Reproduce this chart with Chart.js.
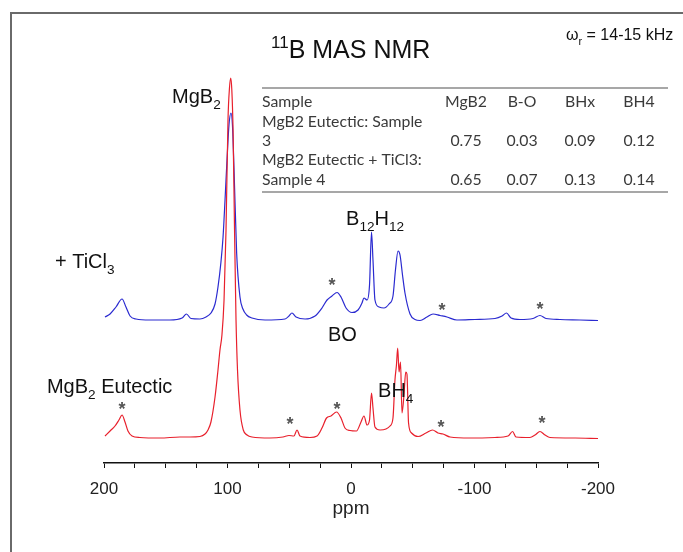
<!DOCTYPE html>
<html><head><meta charset="utf-8">
<script src="https://cdn.jsdelivr.net/npm/chart.js@4.4.1/dist/chart.umd.min.js"></script>
<style>html,body{margin:0;padding:0;background:#fff;}canvas{display:block;}</style>
</head><body>
<canvas id="c" width="683" height="552"></canvas>
<script>
// ---- data ----
const redPpm = [199.2,195.1,191.1,187.9,185.4,183.0,180.6,177.3,170.9,154.7,138.5,130.4,122.3,118.2,115.8,113.4,110.1,107.7,106.1,104.5,102.8,101.2,99.6,98.4,97.4,96.5,95.5,94.3,93.1,91.9,89.9,87.2,84.2,80.2,65.6,55.1,50.2,46.2,43.7,41.3,33.2,27.5,23.5,19.8,16.2,11.7,8.1,4.9,0.8,-4.4,-8.1,-10.5,-13.0,-15.0,-16.6,-17.8,-19.4,-23.5,-28.3,-31.6,-34.0,-35.6,-36.8,-37.8,-38.9,-40.1,-41.3,-42.9,-44.3,-45.3,-46.6,-49.0,-54.3,-60.7,-66.0,-70.4,-74.5,-80.2,-96.4,-116.6,-127.1,-130.8,-133.6,-144.9,-149.0,-153.0,-157.1,-161.1,-181.4,-200];
const redInt = [2,7,12,18,23,16,7,2,0.5,0,1,1,1.5,4,8,16,41,68,88,103,138,208,318,350,360,348,308,208,118,68,28,8,3,1,0,1,2.5,2,8,2,0.5,2,10,20,22,26,20,10,7.5,7,16,22,13,18,45,30,11,8,9,12,20,58,73,90,66,76,25,43,66,64,15,5,1.5,5,8,5,4,1,0,0.5,2,6.5,1,0.5,3,6.5,3,0.5,0,-0.5];

const bluePpm = [199.2,195.1,190.3,185.4,182.2,178.9,174.1,162.8,146.6,136.8,133.2,129.6,122.3,117.4,113.4,110.1,107.7,105.3,103.6,102.0,100.4,98.8,97.2,96.0,94.7,92.6,89.9,87.5,84.5,80.2,69.6,53.4,50.2,47.8,44.5,37.2,29.1,23.5,19.4,15.4,11.3,8.1,4.0,-0.8,-5.7,-8.9,-10.5,-13.0,-15.0,-16.6,-17.8,-19.4,-22.7,-26.7,-30.8,-34.0,-36.0,-38.1,-39.7,-41.7,-43.7,-47.8,-51.8,-55.9,-61.5,-66.4,-72.1,-77.7,-85.8,-100.4,-116.6,-122.3,-125.9,-129.6,-136.8,-147.4,-153.0,-157.9,-169.2,-185.4,-200];
const blueInt = [2,5,12,20,12,3,0,-1,-1,1,5,0.5,0,2,6,15,32,57,82,119,159,194,206,194,149,66,22,10,4,1,-1,0,3,6,2,0,3,11,19,23,26.5,22,11,6.5,9,16,21,19,34,87,59,19,12,11,15,23,49,68,64,44,26,5,-0.5,-1.5,2,5,3.5,2,-1,-0.5,0.5,3,6,1,-0.5,0.5,3.5,0.5,-0.5,-1,-1.5];
const blueOffset = 119;

const xTickLabels = [200,100,0,-100,-200];

const tableHeader = ['Sample','MgB2','B-O','BHx','BH4'];
const tableSamples = [['MgB2 Eutectic: Sample','3'],['MgB2 Eutectic + TiCl3:','Sample 4']];
const tableValues = [[0.75,0.03,0.09,0.12],[0.65,0.07,0.13,0.14]];

// spinning sideband markers (ppm) and their heights above each trace baseline
const redStarPpm = [185.4,49.4,11.3,-72.9,-154.7];
const redStarLvl = [33,18,33,15,19];
const blueStarPpm = [15.4,-73.7,-153.0];
const blueStarLvl = [38,13,14];

// ---- presentation ----
const FONT = "'Liberation Sans', Arial, Helvetica, sans-serif";
const TFONT = "Lato, 'Open Sans', sans-serif";
const peakLabels = [
  {parts:[['MgB'],['2','sub']], ppm:144.9, lvl:335},
  {parts:[['+ TiCl'],['3','sub']], ppm:239.7, lvl:170},
  {parts:[['B'],['12','sub'],['H'],['12','sub']], ppm:4.0, lvl:213},
  {parts:[['BO']], ppm:18.6, lvl:97},
  {parts:[['MgB'],['2','sub'],[' Eutectic']], ppm:246.2, lvl:45},
  {parts:[['BH'],['4','sub']], ppm:-21.9, lvl:41}
];

function rich(ctx, x, y, parts, size, color, family) {
  let cx = x;
  ctx.fillStyle = color;
  ctx.textBaseline = 'alphabetic';
  ctx.textAlign = 'left';
  for (const p of parts) {
    const k = p[1];
    const s = k ? size * 0.68 : size;
    ctx.font = s + 'px ' + (family || FONT);
    const dy = k === 'sub' ? size * 0.3 : (k === 'sup' ? -size * 0.4 : 0);
    ctx.fillText(p[0], cx, y + dy);
    cx += ctx.measureText(p[0]).width;
  }
}

const deco = {
  id: 'deco',
  beforeDraw(chart) {
    const c = chart.ctx;
    c.save();
    c.fillStyle = '#fff';
    c.fillRect(0, 0, chart.width, chart.height);
    c.strokeStyle = '#6a6a6a';
    c.lineWidth = 2;
    c.beginPath();
    c.moveTo(11, chart.height); c.lineTo(11, 13); c.lineTo(chart.width, 13);
    c.stroke();
    c.restore();
  },
  afterDraw(chart) {
    const c = chart.ctx, xs = chart.scales.x, ys = chart.scales.y;
    c.save();
    // title
    rich(c, 271, 58, [['11','sup'],['B MAS NMR']], 25, '#111');
    // spinning rate
    rich(c, 566, 40, [['\u03c9'],['r','sub'],[' = 14-15 kHz']], 16, '#111');
    // peak labels
    for (const L of peakLabels) {
      rich(c, xs.getPixelForValue(L.ppm), ys.getPixelForValue(L.lvl), L.parts, 20, '#111');
    }
    // asterisks
    c.fillStyle = '#555';
    c.font = 'bold 18px ' + FONT;
    c.textAlign = 'center';
    c.textBaseline = 'alphabetic';
    redStarPpm.forEach((p, i) => c.fillText('*', xs.getPixelForValue(p), ys.getPixelForValue(redStarLvl[i]) + 10));
    blueStarPpm.forEach((p, i) => c.fillText('*', xs.getPixelForValue(p), ys.getPixelForValue(blueStarLvl[i] + blueOffset) + 10));
    // table
    const L = 262, R = 668;
    c.strokeStyle = '#8a8a8a';
    c.lineWidth = 1.5;
    c.beginPath(); c.moveTo(L, 88); c.lineTo(R, 88); c.moveTo(L, 192); c.lineTo(R, 192); c.stroke();
    c.fillStyle = '#3a3a3a';
    c.font = '15.8px ' + TFONT;
    const colX = [466, 522, 580, 639];
    c.textAlign = 'left';
    c.fillText(tableHeader[0], L, 106.5);
    c.textAlign = 'center';
    for (let j = 1; j < tableHeader.length; j++) c.fillText(tableHeader[j], colX[j-1], 106.5);
    const rowBase = [[126.5, 146], [164.5, 184.5]];
    tableSamples.forEach((lines, r) => {
      c.textAlign = 'left';
      c.fillText(lines[0], L, rowBase[r][0]);
      c.fillText(lines[1], L, rowBase[r][1]);
      c.textAlign = 'center';
      tableValues[r].forEach((v, j) => c.fillText(v.toFixed(2), colX[j], rowBase[r][1]));
    });
    c.restore();
  }
};

const toPts = (xsArr, ysArr, off) => xsArr.map((v, i) => ({x: v, y: ysArr[i] + off}));

new Chart(document.getElementById('c'), {
  type: 'line',
  data: {
    datasets: [
      {label: 'MgB2 Eutectic', data: toPts(redPpm, redInt, 0), borderColor: '#e8202c', borderWidth: 1.2, pointRadius: 0, cubicInterpolationMode: 'monotone', fill: false},
      {label: '+ TiCl3', data: toPts(bluePpm, blueInt, blueOffset), borderColor: '#2a2ad0', borderWidth: 1.2, pointRadius: 0, cubicInterpolationMode: 'monotone', fill: false}
    ]
  },
  options: {
    responsive: false,
    animation: false,
    devicePixelRatio: 1,
    layout: {padding: {left: 104, right: 85, top: 60, bottom: 33.6}},
    plugins: {legend: {display: false}, tooltip: {enabled: false}, title: {display: false}},
    scales: {
      x: {
        type: 'linear', reverse: true, min: -200, max: 200,
        ticks: {stepSize: 25, autoSkip: false, maxRotation: 0, padding: 11, color: '#222',
                font: {family: FONT, size: 17},
                callback: (v) => xTickLabels.includes(v) ? String(v) : ''},
        grid: {drawOnChartArea: false, drawTicks: true, tickLength: 5, color: '#111', lineWidth: 1},
        border: {display: true, color: '#111', width: 1.6},
        title: {display: true, text: 'ppm', color: '#222', font: {family: FONT, size: 19, lineHeight: 1}, padding: {top: -11, bottom: 0}}
      },
      y: {display: false, min: -25, max: 378}
    }
  },
  plugins: [deco]
});
</script>
</body></html>
